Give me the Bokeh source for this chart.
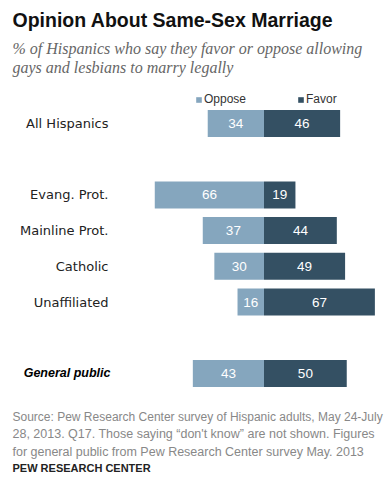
from bokeh.plotting import figure
from bokeh.models import ColumnDataSource, Range1d, Label, Legend, LegendItem
from bokeh.core.properties import value
from bokeh.embed import file_html
from bokeh.resources import INLINE

# ---- data ----
categories = ["All Hispanics", "Evang. Prot.", "Mainline Prot.", "Catholic", "Unaffiliated", "General public"]
oppose = [34, 66, 37, 30, 16, 43]
favor = [46, 19, 44, 49, 67, 50]
series_names = ["Oppose", "Favor"]

title = "Opinion About Same-Sex Marriage"
subtitle = ["% of Hispanics who say they favor or oppose allowing",
            "gays and lesbians to marry legally"]
source_lines = ["Source: Pew Research Center survey of Hispanic adults, May 24-July",
                "28, 2013. Q17. Those saying \u201cdon't know\u201d are not shown. Figures",
                "for general public from Pew Research Center survey May. 2013"]
credit = "PEW RESEARCH CENTER"

# ---- layout ----
W, H = 387, 479
ZERO_PX = 263.5
PX_PER_UNIT = 1.655
ROW0_PX = 123.0
ROW_STEP_PX = 35.7
row_slots = [0, 2, 3, 4, 5, 7]
BAR_H = 0.756
C_OPP = "#85A6BE"
C_FAV = "#345063"


def dx(px):
    return (px - ZERO_PX) / PX_PER_UNIT


def dy(py):
    return (py - ROW0_PX) / ROW_STEP_PX


p = figure(width=W, height=H, output_backend="svg", toolbar_location=None,
           x_range=Range1d(dx(0), dx(W)), y_range=Range1d(dy(H), dy(0)),
           x_axis_type=None, y_axis_type=None, min_border=0,
           outline_line_color=None, background_fill_color="white",
           border_fill_color="white")
p.xgrid.visible = False
p.ygrid.visible = False

src = ColumnDataSource(dict(
    y=row_slots,
    cat=categories,
    opp=oppose,
    fav=favor,
    opp_left=[-v for v in oppose],
    zero=[0] * len(oppose),
    opp_mid=[-v / 2 for v in oppose],
    fav_mid=[v / 2 for v in favor],
    opp_txt=[str(v) for v in oppose],
    fav_txt=[str(v) for v in favor],
))

r_opp = p.hbar(y="y", left="opp_left", right="zero", height=BAR_H, source=src,
               fill_color=C_OPP, line_color=None)
r_fav = p.hbar(y="y", left="zero", right="fav", height=BAR_H, source=src,
               fill_color=C_FAV, line_color=None)

p.text(x="opp_mid", y="y", text="opp_txt", source=src, text_color="white",
       text_align="center", text_baseline="middle",
       text_font=value("Liberation Sans"), text_font_size="13.5px")
p.text(x="fav_mid", y="y", text="fav_txt", source=src, text_color="white",
       text_align="center", text_baseline="middle",
       text_font=value("Liberation Sans"), text_font_size="13.5px")

# category labels
for i, (cat, slot) in enumerate(zip(categories, row_slots)):
    if i == len(categories) - 1:
        p.add_layout(Label(x=dx(110), y=slot, text=cat, text_align="right",
                           text_baseline="middle", text_font="Liberation Sans",
                           text_font_style="bold italic", text_font_size="12.5px",
                           text_color="#000000"))
    else:
        p.add_layout(Label(x=dx(108), y=slot, text=cat, text_align="right",
                           text_baseline="middle", text_font="DejaVu Sans",
                           text_font_size="13px", text_color="#222222"))

# legend
legend = Legend(items=[LegendItem(label=series_names[0], renderers=[r_opp]),
                       LegendItem(label=series_names[1], renderers=[r_fav])],
                orientation="horizontal", location=(195, H - 109),
                glyph_width=7, glyph_height=7, label_standoff=2, spacing=51,
                padding=0, margin=0, border_line_color=None,
                background_fill_alpha=0, label_text_font="Liberation Sans",
                label_text_font_size="12px", label_text_color="#333333",
                label_height=20, label_width=10)
p.add_layout(legend, "center")

# title & subtitle
p.add_layout(Label(x=dx(12), y=dy(19), text=title, text_baseline="middle",
                   text_font="Liberation Sans", text_font_style="bold",
                   text_font_size="19.5px", text_color="#111111"))
for t, yy in zip(subtitle, [48, 67]):
    p.add_layout(Label(x=dx(12), y=dy(yy), text=t, text_baseline="middle",
                       text_font="Liberation Serif", text_font_style="italic",
                       text_font_size="16px", text_color="#666666"))

for i, (t, yy) in enumerate(zip(source_lines, [416, 433.5, 451])):
    p.add_layout(Label(x=dx(12), y=dy(yy), text=t, text_baseline="middle",
                       text_font="Liberation Sans",
                       text_font_size="12px" if i == 0 else "12.5px",
                       text_color="#888888"))
p.add_layout(Label(x=dx(12), y=dy(467), text=credit, text_baseline="middle",
                   text_font="Liberation Sans", text_font_style="bold",
                   text_font_size="11px", text_color="#222222"))

open("out.html", "w").write(file_html(p, INLINE))
